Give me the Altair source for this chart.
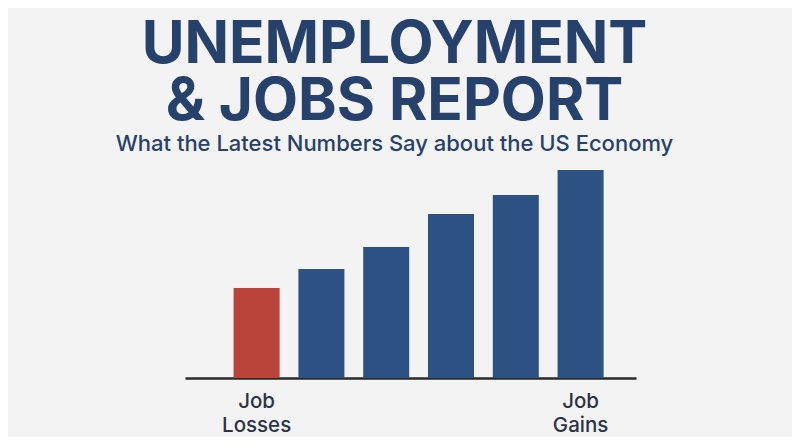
import altair as alt
import pandas as pd

categories = ["c1", "c2", "c3", "c4", "c5", "c6"]
values = [90, 109, 131, 164, 183, 208]
kinds = ["loss", "gain", "gain", "gain", "gain", "gain"]
labels = ["Job\nLosses", "", "", "", "", "Job\nGains"]

title_lines = ["UNEMPLOYMENT", "& JOBS REPORT"]
subtitle = "What the Latest Numbers Say about the US Economy"

df = pd.DataFrame({"cat": categories, "value": values, "kind": kinds, "label": labels})

x = alt.X("cat:N", sort=categories,
          scale=alt.Scale(paddingInner=0.29, paddingOuter=0.625, align=0.6),
          axis=alt.Axis(title=None, labels=False, ticks=False, domain=True,
                        domainColor="#2a2a2a", domainWidth=2.5))
y = alt.Y("value:Q", scale=alt.Scale(domain=[0, 208], nice=False, zero=True),
          axis=None)

bars = alt.Chart(df).mark_bar().encode(
    x=x, y=y,
    color=alt.Color("kind:N",
                    scale=alt.Scale(domain=["loss", "gain"], range=["#ba433a", "#2c5283"]),
                    legend=None),
)

text = alt.Chart(df).mark_text(
    baseline="top", align="center", dy=14, fontSize=20.5, lineHeight=24,
    lineBreak="\n", font="Inter", fontWeight=500, color="#2a3347",
).encode(x=alt.X("cat:N", sort=categories), y=alt.datum(0), text="label:N")

chart = alt.layer(bars, text).properties(
    width=451, height=208,
    padding={"left": 177, "top": 162, "right": 156, "bottom": 59},
    autosize=alt.AutoSizeParams(type="none"),
    background="#f3f3f3",
    title=alt.TitleParams(
        text=title_lines, subtitle=subtitle, anchor="middle", frame="group",
        font="Inter", fontSize=58.5, fontWeight=700, color="#26416b", lineHeight=57,
        subtitleFont="Inter", subtitleFontSize=22, subtitleFontWeight=500,
        subtitleColor="#26416b", subtitlePadding=2, offset=14, dx=-16,
    ),
).configure_view(stroke=None)

chart.save("out.html", embed_options={"renderer": "svg", "actions": False})
